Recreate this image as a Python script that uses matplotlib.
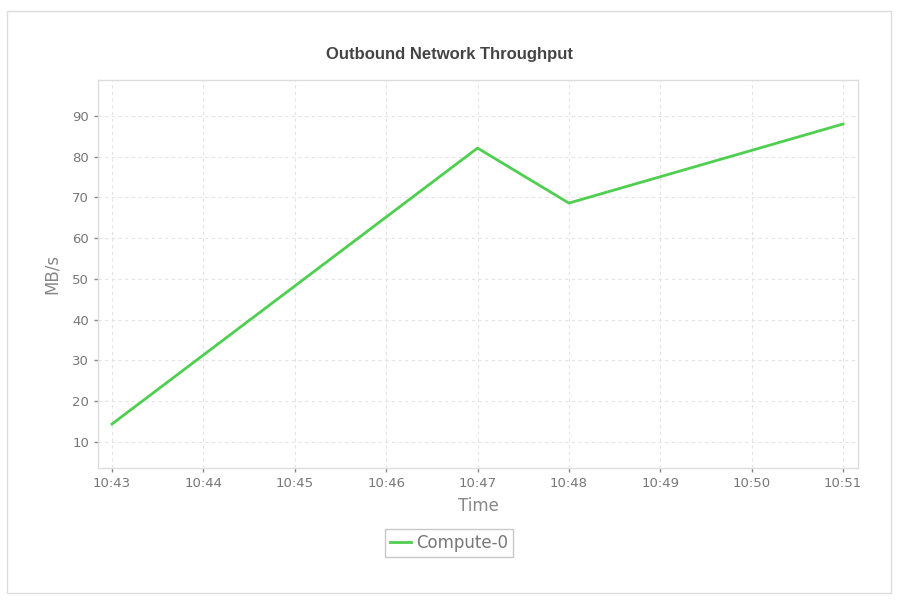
import matplotlib
matplotlib.use("Agg")
from matplotlib import pyplot as plt
import matplotlib.dates as mdates
from matplotlib.patches import Rectangle
import pandas as pd

# data
times = ["10:43", "10:47", "10:48", "10:51"]
throughput = [14.4, 82.1, 68.6, 88.0]
tick_times = ["10:43", "10:44", "10:45", "10:46", "10:47", "10:48", "10:49", "10:50", "10:51"]
y_ticks = [10, 20, 30, 40, 50, 60, 70, 80, 90]

x = pd.to_datetime(["2020-01-01 " + t for t in times])
x_ticks = pd.to_datetime(["2020-01-01 " + t for t in tick_times])

fig = plt.figure(figsize=(9.01, 6.07), dpi=100)
fig.patch.set_facecolor("white")

# outer panel border
fig.patches.append(Rectangle((7 / 901, 1 - 593 / 607), 884 / 901, 582 / 607,
                             transform=fig.transFigure, facecolor="none",
                             edgecolor="#dcdcdc", linewidth=1, zorder=-1))

ax = fig.add_axes([98 / 901, 1 - 468 / 607, 760 / 901, 388 / 607])
ax.plot(x, throughput, color="#4fcf4f", linewidth=2, label="Compute-0")

span = x_ticks[-1] - x_ticks[0]
ax.set_xlim(x_ticks[0] - span * 0.0192, x_ticks[-1] + span * 0.0205)
ax.set_ylim(3.6, 98.8)
ax.set_xticks(x_ticks)
ax.xaxis.set_major_formatter(mdates.DateFormatter("%H:%M"))
ax.set_yticks(y_ticks)

ax.grid(True, color="#e4e4e4", linestyle=(0, (3, 3)), linewidth=0.8)
for s in ax.spines.values():
    s.set_color("#dddddd")
    s.set_linewidth(1)
ax.tick_params(colors="#888888", labelcolor="#777777", labelsize=9.5, length=3, width=1)

fig.text(450 / 901, 1 - 54 / 607, "Outbound Network Throughput", fontsize=12,
         fontweight="bold", color="#444444", family="Liberation Sans",
         ha="center", va="center")
ax.set_xlabel("Time", fontsize=12, color="#888888", labelpad=5)
ax.set_ylabel("MB/s", fontsize=12, color="#888888", labelpad=8)

leg = fig.legend(loc="center", bbox_to_anchor=(449 / 901, 1 - 543 / 607),
                 frameon=True, fancybox=False, fontsize=12, handlelength=1.3,
                 handletextpad=0.3, borderpad=0.3, borderaxespad=0)
leg.get_frame().set_edgecolor("#bbbbbb")
leg.get_frame().set_linewidth(1)
for t in leg.get_texts():
    t.set_color("#777777")

fig.savefig("out.png", dpi=100)
